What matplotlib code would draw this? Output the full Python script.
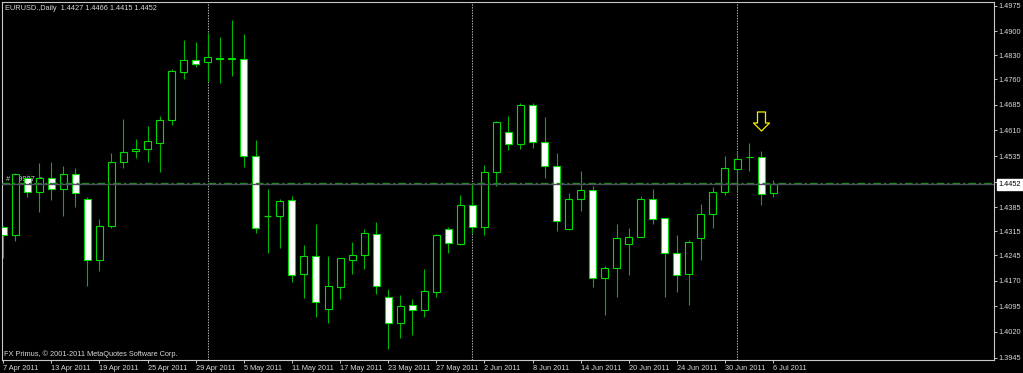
import matplotlib
matplotlib.use('Agg')
import matplotlib.pyplot as plt
from matplotlib.patches import Rectangle
from matplotlib.path import Path

# ---------------- data ----------------
opens = [1.4328, 1.4304, 1.4470, 1.4429, 1.4472, 1.4439, 1.4482, 1.4408, 1.4231, 1.4330,
         1.4517, 1.4549, 1.4557, 1.4574, 1.4639, 1.4782, 1.4815, 1.4809, 1.4823, 1.4818,
         1.4819, 1.4535, 1.4360, 1.4360, 1.4405, 1.4190, 1.4242, 1.4086, 1.4153, 1.4232,
         1.4245, 1.4307, 1.4122, 1.4045, 1.4098, 1.4083, 1.4138, 1.4321, 1.4277, 1.4393,
         1.4326, 1.4489, 1.4605, 1.4570, 1.4685, 1.4577, 1.4505, 1.4321, 1.4408, 1.4435,
         1.4177, 1.4206, 1.4277, 1.4299, 1.4408, 1.4353, 1.4251, 1.4190, 1.4295, 1.4366,
         1.4429, 1.4496, 1.4532, 1.4533, 1.4427]
highs = [1.4330, 1.4484, 1.4480, 1.4514, 1.4517, 1.4506, 1.4499, 1.4416, 1.4350, 1.4543,
         1.4643, 1.4584, 1.4623, 1.4652, 1.4789, 1.4875, 1.4870, 1.4894, 1.4882, 1.4933,
         1.4892, 1.4582, 1.4439, 1.4409, 1.4419, 1.4275, 1.4336, 1.4242, 1.4237, 1.4283,
         1.4321, 1.4342, 1.4145, 1.4128, 1.4116, 1.4204, 1.4307, 1.4326, 1.4420, 1.4455,
         1.4509, 1.4638, 1.4652, 1.4690, 1.4690, 1.4648, 1.4545, 1.4426, 1.4491, 1.4447,
         1.4214, 1.4335, 1.4325, 1.4418, 1.4438, 1.4353, 1.4303, 1.4289, 1.4394, 1.4443,
         1.4535, 1.4551, 1.4574, 1.4550, 1.4466]
lows = [1.4237, 1.4287, 1.4416, 1.4372, 1.4406, 1.4360, 1.4385, 1.4155, 1.4199, 1.4323,
        1.4499, 1.4530, 1.4518, 1.4488, 1.4626, 1.4761, 1.4797, 1.4755, 1.4750, 1.4769,
        1.4504, 1.4311, 1.4250, 1.4267, 1.4167, 1.4119, 1.4065, 1.4045, 1.4117, 1.4189,
        1.4204, 1.4131, 1.3970, 1.4002, 1.4011, 1.4065, 1.4122, 1.4250, 1.4275, 1.4309,
        1.4304, 1.4448, 1.4553, 1.4556, 1.4559, 1.4471, 1.4316, 1.4318, 1.4374, 1.4153,
        1.4070, 1.4123, 1.4187, 1.4299, 1.4336, 1.4123, 1.4138, 1.4099, 1.4231, 1.4325,
        1.4422, 1.4430, 1.4491, 1.4392, 1.4415]
closes = [1.4304, 1.4482, 1.4431, 1.4472, 1.4439, 1.4482, 1.4426, 1.4231, 1.4331, 1.4518,
          1.4546, 1.4556, 1.4578, 1.4641, 1.4783, 1.4816, 1.4804, 1.4824, 1.4818, 1.4821,
          1.4536, 1.4323, 1.4360, 1.4404, 1.4188, 1.4242, 1.4107, 1.4154, 1.4236, 1.4245,
          1.4309, 1.4155, 1.4045, 1.4095, 1.4084, 1.4139, 1.4305, 1.4279, 1.4393, 1.4328,
          1.4488, 1.4634, 1.4571, 1.4683, 1.4577, 1.4507, 1.4344, 1.4408, 1.4437, 1.4177,
          1.4206, 1.4296, 1.4299, 1.4408, 1.4350, 1.4250, 1.4186, 1.4283, 1.4366, 1.4430,
          1.4499, 1.4527, 1.4533, 1.4423, 1.4452]

date_labels = ["7 Apr 2011", "13 Apr 2011", "19 Apr 2011", "25 Apr 2011", "29 Apr 2011",
               "5 May 2011", "11 May 2011", "17 May 2011", "23 May 2011", "27 May 2011",
               "2 Jun 2011", "8 Jun 2011", "14 Jun 2011", "20 Jun 2011", "24 Jun 2011",
               "30 Jun 2011", "6 Jul 2011"]
date_tick_bars = [0, 4, 8, 12, 16, 20, 24, 28, 32, 36, 40, 44, 48, 52, 56, 60, 64]
price_ticks = [1.4975, 1.4900, 1.4830, 1.4760, 1.4685, 1.4610, 1.4535, 1.4460,
               1.4385, 1.4315, 1.4245, 1.4170, 1.4095, 1.4020, 1.3945]
separator_bars = [17, 39, 61]
current_price = 1.4452
order_level = 1.4456
order_label = "#  39937  s"
arrow_bar = 63
arrow_price = 1.4637
title = "EURUSD.,Daily  1.4427 1.4466 1.4415 1.4452"
copyright_text = "FX Primus, \u00a9 2001-2011 MetaQuotes Software Corp."

# ---------------- layout ----------------
W, H = 1023, 373
FONT = 'Liberation Sans'
FS = 5.3
FG = '#d8d8d8'
GREEN = '#00dc00'
WICK = '#00b400'

fig = plt.figure(figsize=(W / 100, H / 100), dpi=100, facecolor='black')
L, R, T, B = 1.7, 994, 1.7, 360
ax = fig.add_axes([L / W, 1 - B / H, (R - L) / W, (B - T) / H])
ax.set_facecolor('black')
bar_px = 12.03
ax.set_xlim((L - 3.2) / bar_px, (R - 3.2) / bar_px)
ax.set_ylim(1.3938, 1.49867)

# period separators
ax.vlines(separator_bars, 1.3938, 1.49867, colors='#b4b4b4', linewidth=0.8,
          linestyles=(0, (1.2, 1.2)), zorder=1)

# order label text (behind candles)
ax.text(0.25, order_level + 0.0011, order_label, fontsize=FS, family=FONT,
        color='#cfcfcf', va='center', ha='left', zorder=1.5)

# candles
body_w = 7 / bar_px
for i, (o, h, l, c) in enumerate(zip(opens, highs, lows, closes)):
    ax.vlines(i, l, h, colors=WICK, linewidth=0.8, zorder=2)
    bottom = min(o, c)
    height = abs(c - o)
    face = 'white' if c < o else 'black'
    if height < 1e-5:
        ax.hlines(o, i - body_w / 2, i + body_w / 2, colors=GREEN, linewidth=0.9, zorder=3)
    else:
        ax.add_patch(Rectangle((i - body_w / 2, bottom), body_w, height,
                               facecolor=face, edgecolor=GREEN, linewidth=0.8, zorder=3))

# price lines
ax.axhline(order_level, color='#1e8c1e', linewidth=1.0, dashes=(5.5, 2.2, 1.5, 2.2), zorder=4)
ax.axhline(current_price, color='#4b525b', linewidth=1.0, zorder=4)

# arrow marker
arrow_verts = [(-4, 9.5), (4, 9.5), (4, -1.5), (8, -1.5), (0, -9.5), (-8, -1.5), (-4, -1.5), (-4, 9.5)]
arrow_codes = [Path.MOVETO] + [Path.LINETO] * 6 + [Path.CLOSEPOLY]
ax.plot([arrow_bar], [arrow_price], marker=Path(arrow_verts, arrow_codes), markersize=13.7,
        markerfacecolor='black', markeredgecolor='#f2f200', markeredgewidth=0.9,
        linestyle='none', zorder=6)

# axes styling
for s in ax.spines.values():
    s.set_color('#c8c8c8')
    s.set_linewidth(0.8)
ax.yaxis.tick_right()
ax.set_yticks(price_ticks)
ax.set_yticklabels([f"{v:.4f}" for v in price_ticks])
ax.tick_params(axis='y', colors='#c8c8c8', labelcolor=FG, length=2.3, width=0.7,
               pad=1.2, labelsize=FS, direction='out')
ax.set_xticks(date_tick_bars)
ax.set_xticklabels(date_labels, ha='left')
ax.tick_params(axis='x', colors='#c8c8c8', labelcolor=FG, length=2.5, width=0.7,
               pad=0.8, labelsize=FS, direction='out')
for lab in ax.get_xticklabels() + ax.get_yticklabels():
    lab.set_family(FONT)

# current price box on axis
fig.text(998.5 / W, 1 - 184.6 / H, f"{current_price:.4f}", fontsize=FS, family=FONT,
         color='black', va='center', ha='left',
         bbox=dict(boxstyle='square,pad=0.25', facecolor='white', edgecolor='white'))

# header / footer text
fig.text(5 / W, 1 - 8 / H, title, fontsize=FS, family=FONT, color=FG, va='center', ha='left')
fig.text(4 / W, 1 - 354 / H, copyright_text, fontsize=FS, family=FONT, color=FG,
         va='center', ha='left')

fig.savefig('out.png', dpi=100, facecolor='black')
